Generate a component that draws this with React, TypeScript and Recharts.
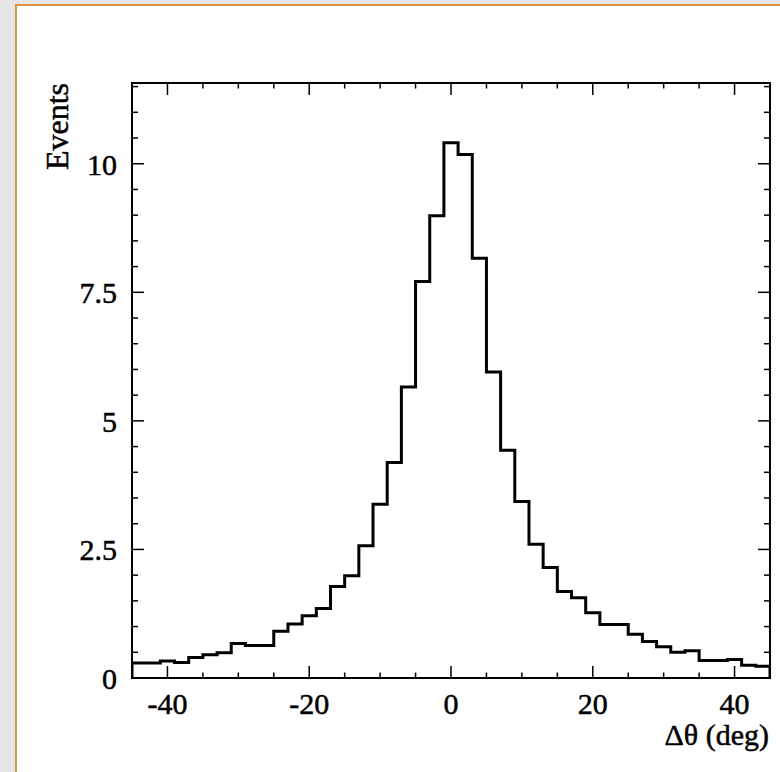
import React from "react";
import { ComposedChart, Line, XAxis, YAxis, ReferenceArea } from "recharts";

// Histogram bins (low edges, deg) and event counts
const binLowEdges = [
  -45, -43, -41, -39, -37, -35, -33, -31, -29, -27,
  -25, -23, -21, -19, -17, -15, -13, -11, -9, -7,
  -5, -3, -1, 1, 3, 5, 7, 9, 11, 13,
  15, 17, 19, 21, 23, 25, 27, 29, 31, 33,
  35, 37, 39, 41, 43,
];
const binHighEdge = 45;
const events = [
  0.29, 0.29, 0.33, 0.30, 0.40, 0.45, 0.49, 0.67, 0.63, 0.63,
  0.91, 1.05, 1.21, 1.35, 1.78, 1.99, 2.57, 3.38, 4.19, 5.66,
  7.71, 8.99, 10.41, 10.18, 8.16, 5.95, 4.43, 3.43, 2.60, 2.15,
  1.68, 1.56, 1.27, 1.04, 1.04, 0.85, 0.71, 0.61, 0.50, 0.53,
  0.34, 0.34, 0.36, 0.25, 0.23,
];

const xTicks = [-40, -35, -30, -25, -20, -15, -10, -5, 0, 5, 10, 15, 20, 25, 30, 35, 40];
const xLabeled = [-40, -20, 0, 20, 40];
const yTicks = [0, 0.5, 1, 1.5, 2, 2.5, 3, 3.5, 4, 4.5, 5, 5.5, 6, 6.5, 7, 7.5, 8, 8.5, 9, 9.5, 10, 10.5, 11, 11.5];
const yLabeled = [0, 2.5, 5, 7.5, 10];
const xDomain: [number, number] = [-45, 45];
const yDomain: [number, number] = [0, 11.57];

const W = 780;
const H = 772;
const M = { top: 83, right: 10, bottom: 54, left: 72 };
const PLOT_TOP = M.top;
const PLOT_RIGHT = W - M.right;
const FONT = "'Liberation Serif', 'Times New Roman', serif";

const data = [
  { x: binLowEdges[0], y: 0 },
  ...binLowEdges.map((e, i) => ({ x: e, y: events[i] })),
  { x: binHighEdge, y: events[events.length - 1] },
  { x: binHighEdge, y: 0 },
];

const XTick = (props: any) => {
  const { x, y, payload } = props;
  const v = payload.value;
  const major = xLabeled.includes(v);
  const len = major ? 12 : 5.5;
  return (
    <g>
      <line x1={x} x2={x} y1={y} y2={y - len} stroke="#000" strokeWidth={1.5} />
      <line x1={x} x2={x} y1={PLOT_TOP} y2={PLOT_TOP + len} stroke="#000" strokeWidth={1.5} />
      {major && (
        <text
          x={x}
          y={y + 36}
          textAnchor="middle"
          fontFamily={FONT}
          fontSize={30}
          fill="#000"
          stroke="#000"
          strokeWidth={0.5}
        >
          {String(v)}
        </text>
      )}
    </g>
  );
};

const YTick = (props: any) => {
  const { x, y, payload } = props;
  const v = payload.value;
  const major = yLabeled.includes(v);
  const len = major ? 12 : 6;
  return (
    <g>
      <line x1={x} x2={x + len} y1={y} y2={y} stroke="#000" strokeWidth={1.5} />
      <line x1={PLOT_RIGHT} x2={PLOT_RIGHT - len} y1={y} y2={y} stroke="#000" strokeWidth={1.5} />
      {major && (
        <text
          x={x - 15}
          y={y + 11}
          textAnchor="end"
          fontFamily={FONT}
          fontSize={30}
          fill="#000"
          stroke="#000"
          strokeWidth={0.5}
        >
          {String(v)}
        </text>
      )}
    </g>
  );
};

export default function App() {
  return (
    <div
      style={{
        position: "absolute",
        left: 0,
        top: 0,
        width: W,
        height: H,
        overflow: "hidden",
        background: "#e6e6e6",
      }}
    >
      <div
        style={{
          position: "absolute",
          left: 15,
          top: 4,
          width: W,
          height: H,
          background: "#ffffff",
          borderLeft: "2px solid #dc9440",
          borderTop: "2px solid #dc9440",
        }}
      />
      <div style={{ position: "absolute", left: 0, top: 0 }}>
        <ComposedChart width={W} height={H} data={data} margin={M}>
          <XAxis
            type="number"
            dataKey="x"
            domain={xDomain}
            allowDataOverflow
            ticks={xTicks}
            interval={0}
            height={40}
            tickSize={0}
            tickMargin={0}
            axisLine={false}
            tickLine={false}
            tick={<XTick />}
          />
          <YAxis
            type="number"
            domain={yDomain}
            allowDataOverflow
            ticks={yTicks}
            interval={0}
            width={60}
            tickSize={0}
            tickMargin={0}
            axisLine={false}
            tickLine={false}
            tick={<YTick />}
          />
          <ReferenceArea
            x1={xDomain[0]}
            x2={xDomain[1]}
            y1={yDomain[0]}
            y2={yDomain[1]}
            fill="none"
            fillOpacity={0}
            stroke="#000"
            strokeWidth={2}
            ifOverflow="visible"
          />
          <Line
            type="stepAfter"
            dataKey="y"
            stroke="#000"
            strokeWidth={3}
            dot={false}
            activeDot={false}
            isAnimationActive={false}
          />
        </ComposedChart>
      </div>
      <svg
        width={W}
        height={H}
        style={{ position: "absolute", left: 0, top: 0, pointerEvents: "none" }}
      >
        <text
          transform="translate(68,83) rotate(-90)"
          textAnchor="end"
          fontFamily={FONT}
          fontSize={32}
          fill="#000"
          stroke="#000"
          strokeWidth={0.5}
        >
          Events
        </text>
        <text
          x={769}
          y={745}
          textAnchor="end"
          fontFamily={FONT}
          fontSize={30}
          fill="#000"
          stroke="#000"
          strokeWidth={0.5}
        >
          Δθ (deg)
        </text>
      </svg>
    </div>
  );
}
